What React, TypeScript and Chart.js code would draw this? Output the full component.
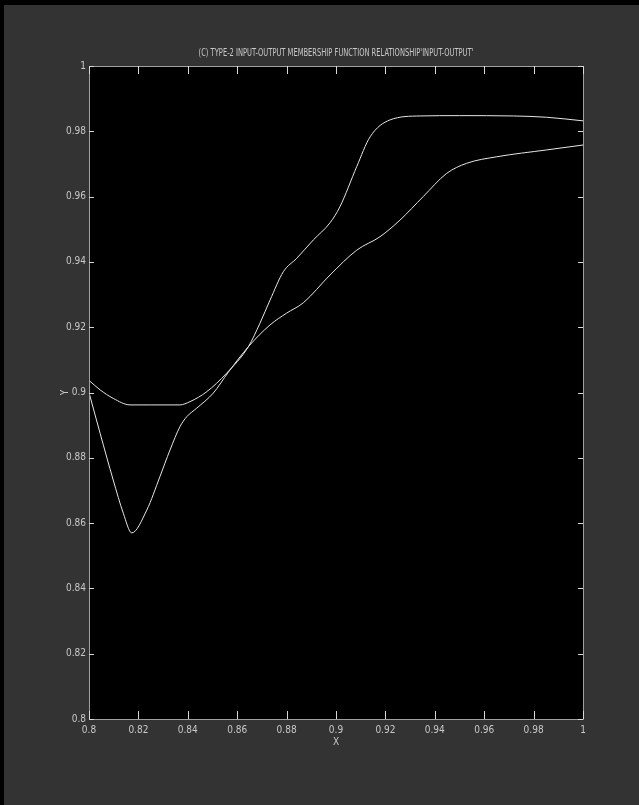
import React, { useEffect, useRef } from "react";
import { Chart, registerables } from "chart.js";

Chart.register(...registerables);

const TITLE = "(C) TYPE-2 INPUT-OUTPUT MEMBERSHIP FUNCTION RELATIONSHIP'INPUT-OUTPUT'";
const X_LABEL = "X";
const Y_LABEL = "Y";

const xTicks = [0.8, 0.82, 0.84, 0.86, 0.88, 0.9, 0.92, 0.94, 0.96, 0.98, 1];
const xTickLabels = ["0.8", "0.82", "0.84", "0.86", "0.88", "0.9", "0.92", "0.94", "0.96", "0.98", "1"];
const yTicks = [0.8, 0.82, 0.84, 0.86, 0.88, 0.9, 0.92, 0.94, 0.96, 0.98, 1];
const yTickLabels = ["0.8", "0.82", "0.84", "0.86", "0.88", "0.9", "0.92", "0.94", "0.96", "0.98", "1"];

// Curve A: shallow dip, ends on the upper plateau
const xA = [0.8, 0.8045, 0.8098, 0.8166, 0.825, 0.8368, 0.8409, 0.8476, 0.8557, 0.8645, 0.8692, 0.8733, 0.8787, 0.8841, 0.8908, 0.8976, 0.9016, 0.9084, 0.9138, 0.9219, 0.934, 0.95, 0.9718, 0.9853, 1.0];
const yA = [0.9037, 0.9008, 0.8982, 0.8962, 0.8962, 0.8962, 0.8972, 0.9002, 0.9059, 0.914, 0.9212, 0.9283, 0.937, 0.9411, 0.9467, 0.952, 0.9569, 0.9692, 0.9783, 0.9835, 0.9847, 0.9848, 0.9847, 0.9843, 0.9832];

// Curve B: deep dip, ends on the lower, slowly rising line
const xB = [0.8, 0.8045, 0.8098, 0.8139, 0.8173, 0.8234, 0.8287, 0.8328, 0.8368, 0.8396, 0.8436, 0.8503, 0.8564, 0.8645, 0.8733, 0.88, 0.8868, 0.8976, 0.9084, 0.9178, 0.9259, 0.9353, 0.9448, 0.9529, 0.9651, 0.9853, 1.0];
const yB = [0.9, 0.8875, 0.8732, 0.863, 0.857, 0.864, 0.8742, 0.8824, 0.8895, 0.8926, 0.8952, 0.8998, 0.9062, 0.914, 0.9207, 0.9243, 0.9275, 0.936, 0.9436, 0.9477, 0.9528, 0.96, 0.9671, 0.9702, 0.9722, 0.9743, 0.9758];

const FONT = "'Liberation Sans Narrow', 'DejaVu Sans Condensed', 'Liberation Sans', sans-serif";
const TEXT = "#c8c8c8";
const BOX = "#a0a0a0";

const frame = {
  id: "frame",
  beforeDraw(chart: any) {
    const { ctx, width, height } = chart;
    ctx.save();
    ctx.fillStyle = "#000";
    ctx.fillRect(0, 0, width, height);
    ctx.fillStyle = "#333333";
    ctx.fillRect(4, 5, width - 4, height - 5);
    const a = chart.chartArea;
    ctx.fillStyle = "#000";
    ctx.fillRect(a.left, a.top, a.right - a.left, a.bottom - a.top);
    ctx.restore();
  },
  afterDatasetsDraw(chart: any) {
    const { ctx } = chart;
    const a = chart.chartArea;
    const xs = chart.scales.x;
    const ys = chart.scales.y;
    ctx.save();
    ctx.strokeStyle = BOX;
    ctx.lineWidth = 1;
    ctx.beginPath();
    ctx.rect(Math.round(a.left) + 0.5, Math.round(a.top) + 0.5, Math.round(a.right - a.left), Math.round(a.bottom - a.top));
    ctx.stroke();
    ctx.strokeStyle = "#d8d8d8";
    ctx.beginPath();
    for (const v of xTicks) {
      const px = Math.round(xs.getPixelForValue(v)) + 0.5;
      ctx.moveTo(px, a.bottom);
      ctx.lineTo(px, a.bottom - 8);
      ctx.moveTo(px, a.top);
      ctx.lineTo(px, a.top + 8);
    }
    for (const v of yTicks) {
      const py = Math.round(ys.getPixelForValue(v)) + 0.5;
      ctx.moveTo(a.left, py);
      ctx.lineTo(a.left + 5, py);
      ctx.moveTo(a.right, py);
      ctx.lineTo(a.right - 5, py);
    }
    ctx.stroke();
    // title, centred over the plot area, horizontally condensed
    ctx.fillStyle = TEXT;
    ctx.font = "11px " + FONT;
    ctx.textAlign = "center";
    ctx.textBaseline = "middle";
    ctx.translate((a.left + a.right) / 2, a.top - 13);
    ctx.scale(0.68, 1);
    ctx.fillText(TITLE, 0, 0);
    ctx.restore();
  },
};

export default function App() {
  const ref = useRef<HTMLCanvasElement | null>(null);
  useEffect(() => {
    document.body.style.margin = "0";
    document.body.style.background = "#333333";
    const canvas = ref.current!;
    const chart = new Chart(canvas, {
      type: "scatter",
      data: {
        datasets: [
          {
            data: xA.map((x, i) => ({ x, y: yA[i] })),
            showLine: true,
            borderColor: "#e6e6e6",
            borderWidth: 1,
            pointRadius: 0,
            cubicInterpolationMode: "monotone",
          },
          {
            data: xB.map((x, i) => ({ x, y: yB[i] })),
            showLine: true,
            borderColor: "#e6e6e6",
            borderWidth: 1,
            pointRadius: 0,
            cubicInterpolationMode: "monotone",
          },
        ],
      },
      options: {
        animation: false,
        responsive: false,
        maintainAspectRatio: false,
        layout: { padding: { left: 0, right: 56, top: 66, bottom: 0 } },
        plugins: {
          legend: { display: false },
          tooltip: { enabled: false },
          title: { display: false },
        },
        scales: {
          x: {
            type: "linear",
            min: 0.8,
            max: 1,
            afterBuildTicks: (s: any) => {
              s.ticks = xTicks.map((v) => ({ value: v }));
            },
            afterFit: (s: any) => {
              s.height = 86;
            },
            grid: { display: false, drawTicks: false },
            border: { display: false },
            ticks: {
              color: TEXT,
              padding: 5,
              maxRotation: 0,
              autoSkip: false,
              font: { family: FONT, size: 10 },
              callback: (v: any) => {
                const i = xTicks.findIndex((t) => Math.abs(t - v) < 1e-9);
                return i >= 0 ? xTickLabels[i] : "";
              },
            },
            title: {
              display: true,
              text: X_LABEL,
              color: TEXT,
              font: { family: FONT, size: 10 },
              padding: { top: 0, bottom: 57 },
            },
          },
          y: {
            type: "linear",
            min: 0.8,
            max: 1,
            afterBuildTicks: (s: any) => {
              s.ticks = yTicks.map((v) => ({ value: v }));
            },
            afterFit: (s: any) => {
              s.width = 89;
            },
            grid: { display: false, drawTicks: false },
            border: { display: false },
            ticks: {
              color: TEXT,
              padding: 3,
              autoSkip: false,
              font: { family: FONT, size: 10 },
              callback: (v: any) => {
                const i = yTicks.findIndex((t) => Math.abs(t - v) < 1e-9);
                return i >= 0 ? yTickLabels[i] : "";
              },
            },
            title: {
              display: true,
              text: Y_LABEL,
              color: TEXT,
              font: { family: FONT, size: 10 },
              padding: { top: 59, bottom: 0 },
            },
          },
        },
      },
      plugins: [frame],
    } as any);
    return () => chart.destroy();
  }, []);
  return (
    <div style={{ width: 639, height: 805 }}>
      <canvas ref={ref} width={639} height={805} style={{ display: "block", width: 639, height: 805 }} />
    </div>
  );
}
